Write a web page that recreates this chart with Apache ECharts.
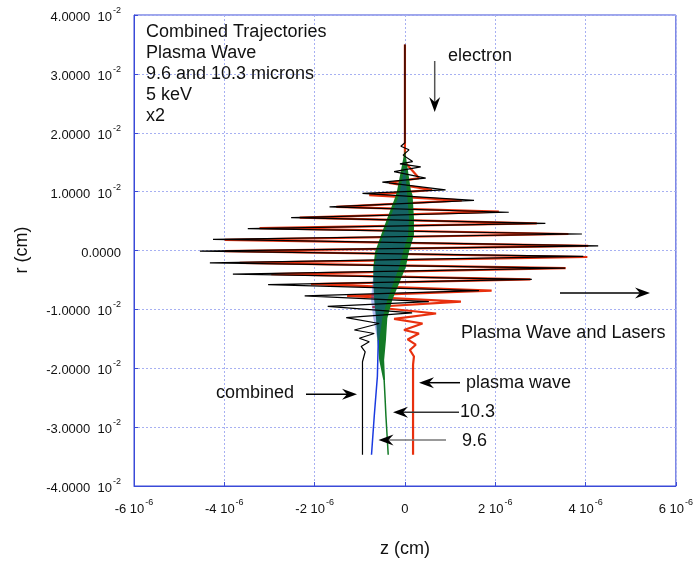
<!DOCTYPE html>
<html>
<head>
<meta charset="utf-8">
<script src="https://cdn.jsdelivr.net/npm/echarts@6/dist/echarts.min.js"></script>
<style>
html,body{margin:0;padding:0;background:#fff;}
#chart{width:696px;height:567px;}
</style>
</head>
<body>
<div id="chart"></div>
<script>
// Units: z in 1e-6 cm, r in 1e-2 cm
const zTicks = [-6, -4, -2, 0, 2, 4, 6];
const rTicks = [-4, -3, -2, -1, 0, 1, 2, 3, 4];

// combined trajectory (black), turning points top -> bottom
const combinedPath = [
  [0.00, 3.50], [0.00, 1.83], [-0.09, 1.77], [0.09, 1.71], [-0.04, 1.62], [0.17, 1.51],
  [-0.11, 1.47], [0.35, 1.42], [-0.24, 1.34], [0.46, 1.23], [-0.50, 1.16], [0.90, 1.03],
  [-0.94, 0.97], [1.53, 0.85], [-1.67, 0.74], [2.30, 0.65], [-2.52, 0.56], [3.11, 0.46],
  [-3.48, 0.37], [3.92, 0.28], [-4.25, 0.19], [4.28, 0.08], [-4.54, -0.01], [3.95, -0.10],
  [-4.32, -0.21], [3.55, -0.30], [-3.81, -0.40], [2.81, -0.49], [-3.03, -0.58], [1.64, -0.68],
  [-2.22, -0.77], [0.53, -0.87], [-1.71, -0.95], [0.16, -1.06], [-1.30, -1.14], [-0.57, -1.24],
  [-1.12, -1.35], [-0.68, -1.41], [-1.01, -1.49], [-0.79, -1.55], [-0.97, -1.63], [-0.88, -1.72],
  [-0.94, -1.89], [-0.94, -3.47]
];

// plasma wave trajectory (red)
const plasmaPath = [
  [0.00, 3.50], [0.00, 1.50], [0.31, 1.23], [-0.35, 1.15], [0.60, 1.03], [-0.79, 0.94],
  [1.26, 0.85], [-1.52, 0.74], [2.08, 0.66], [-2.33, 0.56], [2.92, 0.46], [-3.22, 0.38],
  [3.62, 0.28], [-3.99, 0.18], [4.06, 0.08], [-3.99, -0.01], [4.04, -0.11], [-3.66, -0.21],
  [3.56, -0.30], [-2.96, -0.40], [2.78, -0.49], [-2.08, -0.57], [1.92, -0.68], [-1.28, -0.77],
  [1.24, -0.87], [-0.72, -0.96], [0.69, -1.07], [-0.24, -1.16], [0.39, -1.24], [-0.02, -1.35],
  [0.31, -1.41], [0.06, -1.51], [0.24, -1.60], [0.11, -1.69], [0.20, -1.80], [0.18, -1.94],
  [0.18, -3.47]
];

// 10.3 micron trajectory (green): oscillation envelope and tail
const green103Left = [
  [0.00, 1.71], [-0.17, 1.03], [-0.20, 0.94], [-0.39, 0.55], [-0.53, 0.26], [-0.66, -0.02],
  [-0.70, -0.28], [-0.70, -0.56], [-0.68, -0.84], [-0.64, -1.15], [-0.61, -1.52], [-0.57, -1.86],
  [-0.48, -2.20]
];
const green103Right = [
  [0.00, 1.71], [0.13, 1.03], [0.17, 0.94], [0.20, 0.55], [0.20, 0.26], [0.09, -0.02],
  [0.02, -0.28], [-0.13, -0.56], [-0.28, -0.84], [-0.39, -1.15], [-0.42, -1.52], [-0.46, -1.86],
  [-0.44, -2.20]
];
const green103Tail = [[-0.46, -2.20], [-0.44, -2.50], [-0.42, -2.82], [-0.37, -3.47]];

// 9.6 micron trajectory (blue): oscillation envelope and tail
const blue96Left = [
  [0.00, 1.45], [-0.13, 0.94], [-0.33, 0.55], [-0.48, 0.26], [-0.61, -0.02], [-0.68, -0.28],
  [-0.72, -0.56], [-0.75, -0.84], [-0.70, -1.15], [-0.61, -1.52]
];
const blue96Right = [
  [0.00, 1.45], [0.05, 0.94], [0.09, 0.55], [0.07, 0.26], [-0.04, -0.02], [-0.13, -0.28],
  [-0.26, -0.56], [-0.39, -0.84], [-0.50, -1.15], [-0.57, -1.52]
];
const blue96Tail = [[-0.59, -1.52], [-0.61, -2.14], [-0.68, -2.82], [-0.74, -3.47]];

const chart = echarts.init(document.getElementById('chart'), null, {renderer: 'canvas'});

function envelope(left, right, color, opacity) {
  return {
    type: 'custom',
    coordinateSystem: 'cartesian2d',
    data: [[0, 0]],
    silent: true,
    renderItem: function (params, api) {
      const pts = left.concat(right.slice().reverse()).map(p => api.coord(p));
      return {type: 'polygon', shape: {points: pts}, style: {fill: color, opacity: opacity}};
    }
  };
}

function arrow(x1, y1, x2, y2, lineColor, headColor) {
  const dx = x2 - x1, dy = y2 - y1, L = Math.hypot(dx, dy);
  const ux = dx / L, uy = dy / L, px = -uy, py = ux;
  const len = 15, hw = 5.5, notch = 10;
  const bx = x2 - ux * len, by = y2 - uy * len;
  const nx = x2 - ux * notch, ny = y2 - uy * notch;
  return [
    {type: 'line', shape: {x1: x1, y1: y1, x2: nx, y2: ny}, style: {stroke: lineColor, lineWidth: 1.5}, z: 100},
    {type: 'polygon', shape: {points: [[x2, y2], [bx + px * hw, by + py * hw], [nx, ny], [bx - px * hw, by - py * hw]]},
      style: {fill: headColor}, z: 100}
  ];
}

function txt(x, y, s, align) {
  return {type: 'text', x: x, y: y, z: 100,
    style: {text: s, fill: '#111', font: '18px "Liberation Sans", Arial, sans-serif',
      textAlign: align || 'left', textVerticalAlign: 'middle'}};
}

const labelFont = '"Liberation Sans", Arial, sans-serif';
const rich = {
  n: {fontSize: 13, fontFamily: labelFont, color: '#111', lineHeight: 18, verticalAlign: 'bottom'},
  s: {fontSize: 9, fontFamily: labelFont, color: '#111', lineHeight: 18, verticalAlign: 'top', padding: [0, 0, 0, 1]}
};

const graphics = [].concat(
  [
    {type: 'text', x: 22, y: 250, rotation: Math.PI / 2, z: 100,
      style: {text: 'r (cm)', fill: '#111', font: '18px "Liberation Sans", Arial, sans-serif', textAlign: 'center', textVerticalAlign: 'middle'}},
    {type: 'text', x: 405, y: 549, z: 100,
      style: {text: 'z (cm)', fill: '#111', font: '18px "Liberation Sans", Arial, sans-serif', textAlign: 'center', textVerticalAlign: 'middle'}},
    txt(146, 32, 'Combined Trajectories'),
    txt(146, 53, 'Plasma Wave'),
    txt(146, 74, '9.6 and 10.3 microns'),
    txt(146, 95, '5 keV'),
    txt(146, 116, 'x2'),
    txt(448, 56, 'electron'),
    txt(461, 333, 'Plasma Wave and Lasers'),
    txt(466, 383, 'plasma wave'),
    txt(216, 393, 'combined'),
    txt(460, 412, '10.3'),
    txt(462, 441, '9.6')
  ],
  arrow(434.7, 61, 434.7, 112, '#555', '#000'),
  arrow(560, 293, 650, 293, '#000', '#000'),
  arrow(460, 382.7, 419, 382.7, '#000', '#000'),
  arrow(306, 394.3, 357, 394.3, '#000', '#000'),
  arrow(459, 412.3, 393, 412.3, '#333', '#000'),
  arrow(446, 440, 378.5, 440, '#777', '#000')
);

const option = {
  animation: false,
  backgroundColor: '#fff',
  grid: {left: 134, right: 18, top: 15, bottom: 81, show: true, borderColor: '#3a4ad8', borderWidth: 1},
  xAxis: {
    type: 'value', min: -6, max: 6, interval: 2,
    axisLine: {show: true, onZero: false, lineStyle: {color: '#3a4ad8'}},
    axisTick: {show: true, inside: true, length: 4, lineStyle: {color: '#3a4ad8'}},
    splitLine: {show: true, lineStyle: {color: '#a7b0f2', type: [2, 2], width: 1}},
    axisLabel: {
      margin: 12, showMinLabel: true, showMaxLabel: true,
      formatter: function (v) { return v === 0 ? '{n|0}' : '{n|' + v + ' 10}{s|-6}'; },
      rich: rich
    }
  },
  yAxis: {
    type: 'value', min: -4, max: 4, interval: 1,
    axisLine: {show: true, onZero: false, lineStyle: {color: '#3a4ad8'}},
    axisTick: {show: true, inside: true, length: 4, lineStyle: {color: '#3a4ad8'}},
    splitLine: {show: true, lineStyle: {color: '#a7b0f2', type: [2, 2], width: 1}},
    axisLabel: {
      margin: 13, showMinLabel: true, showMaxLabel: true,
      formatter: function (v) { return v === 0 ? '{n|0.0000}' : '{n|' + v.toFixed(4) + '\u00a0\u00a010}{s|-2}'; },
      rich: rich
    }
  },
  series: [
    {type: 'line', data: plasmaPath, showSymbol: false, symbol: 'none', z: 2,
      lineStyle: {color: '#e8300e', width: 2.2}},
    Object.assign(envelope(green103Left, green103Right, '#137a26', 1), {z: 3}),
    Object.assign(envelope(blue96Left, blue96Right, '#1a3ad8', 0.35), {z: 4}),
    {type: 'line', data: green103Tail, showSymbol: false, symbol: 'none', z: 4,
      lineStyle: {color: '#137a26', width: 1.5}},
    {type: 'line', data: blue96Tail, showSymbol: false, symbol: 'none', z: 4,
      lineStyle: {color: '#1a3ae0', width: 1.5}},
    {type: 'line', data: combinedPath, showSymbol: false, symbol: 'none', z: 6,
      lineStyle: {color: '#000', width: 1.2}}
  ],
  graphic: graphics
};
chart.setOption(option);
</script>
</body>
</html>
